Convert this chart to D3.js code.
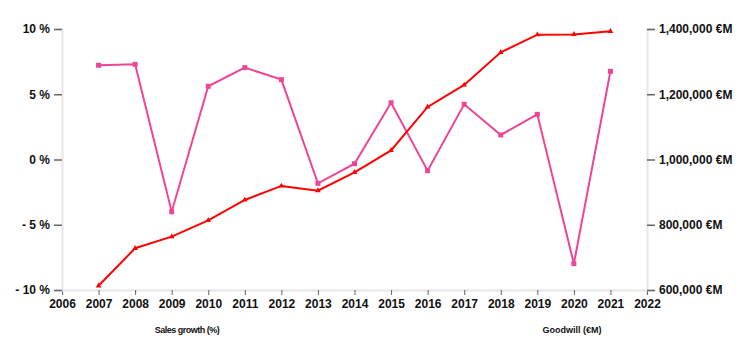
<!DOCTYPE html>
<html>
<head>
<meta charset="utf-8">
<script src="https://cdn.jsdelivr.net/npm/d3@7"></script>
<style>
  body { margin: 0; background: #fff; }
  svg { display: block; font-family: "Liberation Sans", Arial, sans-serif; }
  .tick text { font-weight: bold; font-size: 12px; fill: #111; }
</style>
</head>
<body>
<svg id="chart" width="748" height="342"></svg>
<script>
// Yearly series
const years = [2007, 2008, 2009, 2010, 2011, 2012, 2013, 2014, 2015, 2016, 2017, 2018, 2019, 2020, 2021];
const salesGrowth = [7.22, 7.29, -4.0, 5.61, 7.04, 6.12, -1.83, -0.32, 4.35, -0.86, 4.23, 1.88, 3.46, -7.98, 6.76];
const goodwill = [613000, 728000, 763500, 813500, 876000, 919000, 904500, 960500, 1028000, 1161000, 1228500, 1328500, 1382500, 1383500, 1393000];

// Tick labels
const xTicks = d3.range(2006, 2023);
const leftTicks = [-10, -5, 0, 5, 10];
const rightTicks = [600000, 800000, 1000000, 1200000, 1400000];

const svg = d3.select("#chart");
const plotLeft = 62, plotRight = 647, plotTop = 29, plotBottom = 290;

const x = d3.scaleLinear().domain([2006, 2022]).range([plotLeft, plotRight]);
const yL = d3.scaleLinear().domain([-10, 10]).range([plotBottom, plotTop]);
const yR = d3.scaleLinear().domain([600000, 1400000]).range([plotBottom, plotTop]);

const axisColor = "#e6e6e6", tickColor = "#666";

// X axis
const gx = svg.append("g").attr("transform", `translate(0,${plotBottom})`)
  .call(d3.axisBottom(x).tickValues(xTicks).tickFormat(d3.format("d")).tickSize(5).tickPadding(4));
gx.select(".domain").attr("stroke", axisColor).attr("stroke-width", 2);
gx.selectAll(".tick line").attr("stroke", tickColor);

// Left axis
const gl = svg.append("g").attr("transform", `translate(${plotLeft},0)`)
  .call(d3.axisLeft(yL).tickValues(leftTicks)
    .tickFormat(d => (d < 0 ? "- " + Math.abs(d) : d) + " %").tickSize(8).tickPadding(4));
gl.select(".domain").attr("stroke", axisColor).attr("stroke-width", 2);
gl.selectAll(".tick line").attr("stroke", tickColor).attr("stroke-width", 1.5);

// Right axis
const fmtR = d3.format(",");
const gr = svg.append("g").attr("transform", `translate(${plotRight},0)`)
  .call(d3.axisRight(yR).tickValues(rightTicks)
    .tickFormat(d => fmtR(d) + " €M").tickSize(8).tickPadding(4));
gr.select(".domain").attr("stroke", axisColor).attr("stroke-width", 2);
gr.selectAll(".tick line").attr("stroke", tickColor).attr("stroke-width", 1.5);

// Sales growth line
const pink = "#ee4596";
svg.append("path")
  .datum(years.map((y, i) => [y, salesGrowth[i]]))
  .attr("fill", "none").attr("stroke", pink).attr("stroke-width", 2)
  .attr("d", d3.line().x(d => x(d[0])).y(d => yL(d[1])));
svg.append("g").selectAll("rect")
  .data(years.map((y, i) => [y, salesGrowth[i]]))
  .join("rect")
  .attr("x", d => x(d[0]) - 2.5).attr("y", d => yL(d[1]) - 2.5)
  .attr("width", 5).attr("height", 5).attr("fill", pink);

// Goodwill line
const red = "#ff0000";
svg.append("path")
  .datum(years.map((y, i) => [y, goodwill[i]]))
  .attr("fill", "none").attr("stroke", red).attr("stroke-width", 2)
  .attr("d", d3.line().x(d => x(d[0])).y(d => yR(d[1])));
svg.append("g").selectAll("path")
  .data(years.map((y, i) => [y, goodwill[i]]))
  .join("path")
  .attr("transform", d => `translate(${x(d[0])},${yR(d[1])})`)
  .attr("d", d3.symbol(d3.symbolTriangle, 14))
  .attr("fill", red);

// Series titles
svg.append("text").attr("x", 187).attr("y", 333).attr("text-anchor", "middle")
  .attr("font-size", 9).attr("font-weight", "bold").attr("fill", "#111")
  .attr("letter-spacing", -0.5)
  .text("Sales growth (%)");
svg.append("text").attr("x", 572).attr("y", 333).attr("text-anchor", "middle")
  .attr("font-size", 9).attr("font-weight", "bold").attr("fill", "#111")
  .text("Goodwill (€M)");
</script>
</body>
</html>
